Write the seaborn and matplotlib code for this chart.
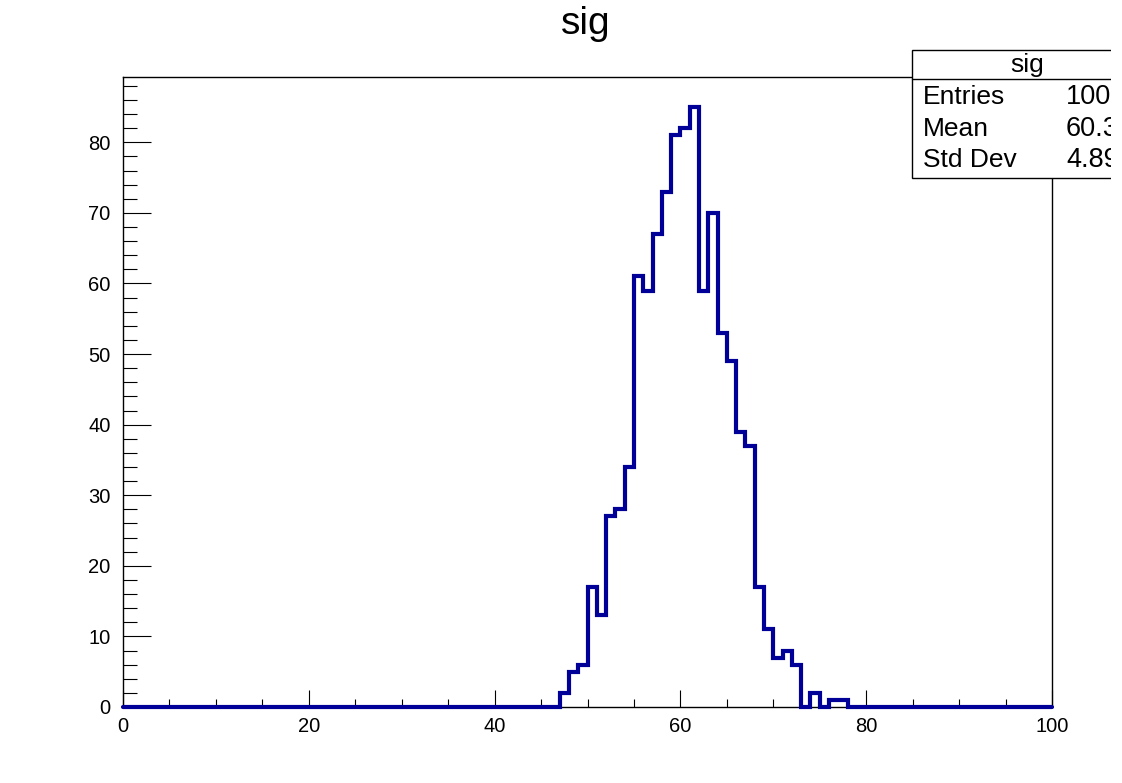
import numpy as np
import pandas as pd
import matplotlib
matplotlib.use("Agg")
import matplotlib.pyplot as plt
from matplotlib.patches import Rectangle
from matplotlib.lines import Line2D
from matplotlib.ticker import MultipleLocator
import seaborn as sns

# ---- data (counts per unit-width bin, 0..100) ----
bin_edges_lo = 0
bin_edges_hi = 100
n_bins = 100
counts = [
    0, 0, 0, 0, 0, 0, 0, 0, 0, 0,          # 0-9
    0, 0, 0, 0, 0, 0, 0, 0, 0, 0,          # 10-19
    0, 0, 0, 0, 0, 0, 0, 0, 0, 0,          # 20-29
    0, 0, 0, 0, 0, 0, 0, 0, 0, 0,          # 30-39
    0, 0, 0, 0, 0, 0, 0, 2, 5, 6,          # 40-49
    17, 13, 27, 28, 34, 61, 59, 67, 73, 81,  # 50-59
    82, 85, 59, 70, 53, 49, 39, 37, 17, 11,  # 60-69
    7, 8, 6, 0, 2, 0, 1, 1, 0, 0,          # 70-79
    0, 0, 0, 0, 0, 0, 0, 0, 0, 0,          # 80-89
    0, 0, 0, 0, 0, 0, 0, 0, 0, 0,          # 90-99
]
title = "sig"
stat_names = ["Entries", "Mean", "Std Dev"]
stat_values = ["1000", "60.37", "4.893"]
x_major_ticks = [0, 20, 40, 60, 80, 100]
y_major_ticks = [0, 10, 20, 30, 40, 50, 60, 70, 80]

centers = np.arange(n_bins) + 0.5
df = pd.DataFrame({"x": centers, "w": counts})

sns.set_theme(style="white")
plt.rcParams["font.family"] = ["Liberation Sans", "DejaVu Sans"]

W, H = 1122, 783
fig = plt.figure(figsize=(W / 100, H / 100), dpi=100)
ax = fig.add_axes([123 / W, 1 - 707 / H, (1052 - 123) / W, (707 - 77) / H])

sns.histplot(data=df, x="x", weights="w", bins=n_bins,
             binrange=(bin_edges_lo, bin_edges_hi), element="step", fill=False,
             color="#000099", linewidth=3.0, ax=ax)
for ln in ax.lines:
    ln.set_clip_on(False)
    ln.set_zorder(5)
    ln.set_solid_joinstyle("miter")

ax.set_xlim(0, 100)
ax.set_ylim(0, max(counts) * 1.05)
ax.set_xlabel("")
ax.set_ylabel("")

for s in ax.spines.values():
    s.set_color("black")
    s.set_linewidth(1.0)
    s.set_visible(True)

ax.set_xticks(x_major_ticks)
ax.set_yticks(y_major_ticks)
ax.xaxis.set_minor_locator(MultipleLocator(5))
ax.yaxis.set_minor_locator(MultipleLocator(2))
ax.tick_params(axis="x", which="major", direction="in", length=12.5, width=0.8,
               color="black", labelcolor="black", labelsize=14.5, pad=7,
               bottom=True, top=False)
ax.tick_params(axis="x", which="minor", direction="in", length=6, width=0.8,
               color="black", bottom=True, top=False)
ax.tick_params(axis="y", which="major", direction="in", length=20, width=0.8,
               color="black", labelcolor="black", labelsize=14.5, pad=9,
               left=True, right=False)
ax.tick_params(axis="y", which="minor", direction="in", length=10, width=0.8,
               color="black", left=True, right=False)
ax.grid(False)

# title
fig.text(586 / W, 1 - 24 / H, title, ha="center", va="center", fontsize=28,
         color="black")

# stats box (runs past the drawable area, as in the reference)
def fy(py):
    return 1 - py / H

box = Rectangle((912 / W, fy(178)), (1160 - 912) / W, (178 - 50) / H,
                transform=fig.transFigure, facecolor="white", edgecolor="black",
                linewidth=1.0, zorder=10, clip_on=False)
fig.add_artist(box)
fig.add_artist(Line2D([912 / W, 1160 / W], [fy(79), fy(79)],
                      transform=fig.transFigure, color="black", linewidth=1.0,
                      zorder=11))
fig.text(1027 / W, fy(65), title, ha="center", va="center", fontsize=19,
         color="black", zorder=12)
row_y = [97, 129, 160]
for name, val, py in zip(stat_names, stat_values, row_y):
    fig.text(923 / W, fy(py), name, ha="left", va="center", fontsize=19,
             color="black", zorder=12)
    fig.text(1066 / W, fy(py), val, ha="left", va="center", fontsize=19.5,
             color="black", zorder=12)

# blank strip at the right edge of the canvas (the drawing area ends there)
fig.add_artist(Rectangle((1111 / W, 0), (W - 1111) / W + 0.01, 1.0,
                         transform=fig.transFigure, facecolor="white",
                         edgecolor="none", zorder=20))

fig.savefig("out.png", dpi=100)
